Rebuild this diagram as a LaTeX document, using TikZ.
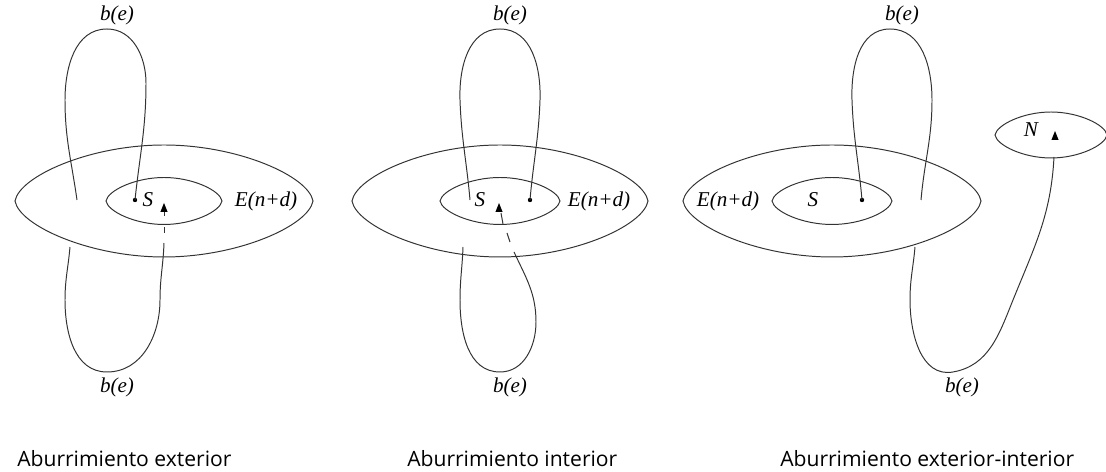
\documentclass[tikz,border=0pt]{standalone}
\usepackage{fontspec}
\setmainfont{Liberation Serif}
\newfontfamily\capfont{Open Sans}
% lens shaped ring: centre, half width, half height
\newcommand{\lensshape}[3]{%
  \begin{scope}[shift={(#1)}, xscale=#2, yscale=#3]
    \draw[wire] (-1,0) .. controls (-0.97,0.44) and (-0.5,1) .. (0,1)
      .. controls (0.5,1) and (0.97,0.44) .. (1,0)
      .. controls (0.97,-0.44) and (0.5,-1) .. (0,-1)
      .. controls (-0.5,-1) and (-0.97,-0.44) .. (-1,0) -- cycle;
  \end{scope}}
\newcommand{\arrowtri}[1]{\fill[black] (#1) ++(-3.6,-4) -- ++(7.2,0) -- ++(-3.6,9) -- cycle;}
\begin{document}
\begin{tikzpicture}[x=0.025cm, y=0.025cm,
    wire/.style={black!80, line width=0.7pt},
    lbl/.style={font=\fontsize{15}{15}\selectfont\itshape, inner sep=0pt},
    caption/.style={font=\capfont\fontsize{15}{15}\selectfont, anchor=base west, inner sep=0pt}]
    \useasboundingbox (0,0) rectangle (1106,472);

    % Panel 1: exterior
    \lensshape{164,271}{149}{56}
    \lensshape{164,271}{58}{23.5}
    \coordinate (dotA) at (135,272);
    \coordinate (triA) at (164,264);
    \fill (dotA) circle (2.2);
    \node[lbl] (sA) at (148,272) {S};
    \arrowtri{triA}
    \draw[wire] (164,260) -- (164,256);
    \node[lbl] (eA) at (266,271) {E(n+d)};
    \draw[wire] (dotA) to[out=84,in=-90] (146,389) to[out=90,in=0] (107,443)
        to[out=180,in=90] (65,372) to[out=-90,in=98] (77,272);
    \draw[wire] (164,245) -- (164,239);
    \draw[wire] (164,229) to[out=-92,in=90] (160,172) to[out=-90,in=0] (107,100)
        to[out=180,in=-90] (65,172) to[out=90,in=-95] (70,225);
    \node[lbl] (bA1) at (117,457) {b(e)};
    \node[lbl] (bA2) at (117,85) {b(e)};
    \node[caption] (capA) at (17,5) {Aburrimiento exterior};

    % Panel 2: interior
    \lensshape{500,271}{148}{56}
    \lensshape{500,271}{60}{23.5}
    \coordinate (dotB) at (530,272);
    \coordinate (triB) at (499,264);
    \fill (dotB) circle (2.2);
    \node[lbl] (sB) at (480,272) {S};
    \arrowtri{triB}
    \node[lbl] (eB) at (599,271) {E(n+d)};
    \draw[wire] (470,272) to[out=95,in=-88] (460,372) to[out=92,in=180] (500,443)
        to[out=0,in=88] (540,372) to[out=-92,in=85] (dotB);
    \draw[wire] (501,259) -- (503,248);
    \draw[wire] (507,239) -- (510,230);
    \draw[wire] (514,220) to[out=-65,in=90] (536,150) to[out=-90,in=0] (500,100)
        to[out=180,in=-90] (460,172) to[out=90,in=-92] (463,225);
    \node[lbl] (bB1) at (510,457) {b(e)};
    \node[lbl] (bB2) at (510,85) {b(e)};
    \node[caption] (capB) at (407,5) {Aburrimiento interior};

    % Panel 3: exterior-interior
    \lensshape{832,271}{149}{56}
    \lensshape{832,271}{60}{23.5}
    \lensshape{1051,337}{56}{23}
    \coordinate (dotC) at (862,272);
    \coordinate (triC) at (1055,336);
    \fill (dotC) circle (2.2);
    \node[lbl] (eC) at (728,271) {E(n+d)};
    \node[lbl] (sC) at (813,272) {S};
    \node[lbl] (nC) at (1031,342) {N};
    \arrowtri{triC}
    \draw[wire] (dotC) to[out=95,in=-88] (852,372) to[out=92,in=180] (890,443)
        to[out=0,in=90] (932,372) to[out=-90,in=85] (921,272);
    \draw[wire] (1054,315) to[out=-93,in=68] (1013,172) to[out=-112,in=10] (953,100)
        to[out=190,in=-90] (910,172) to[out=90,in=-95] (915,225);
    \node[lbl] (bC1) at (902,457) {b(e)};
    \node[lbl] (bC2) at (962,85) {b(e)};
    \node[caption] (capC) at (780,5) {Aburrimiento exterior-interior};
\end{tikzpicture}
\end{document}
